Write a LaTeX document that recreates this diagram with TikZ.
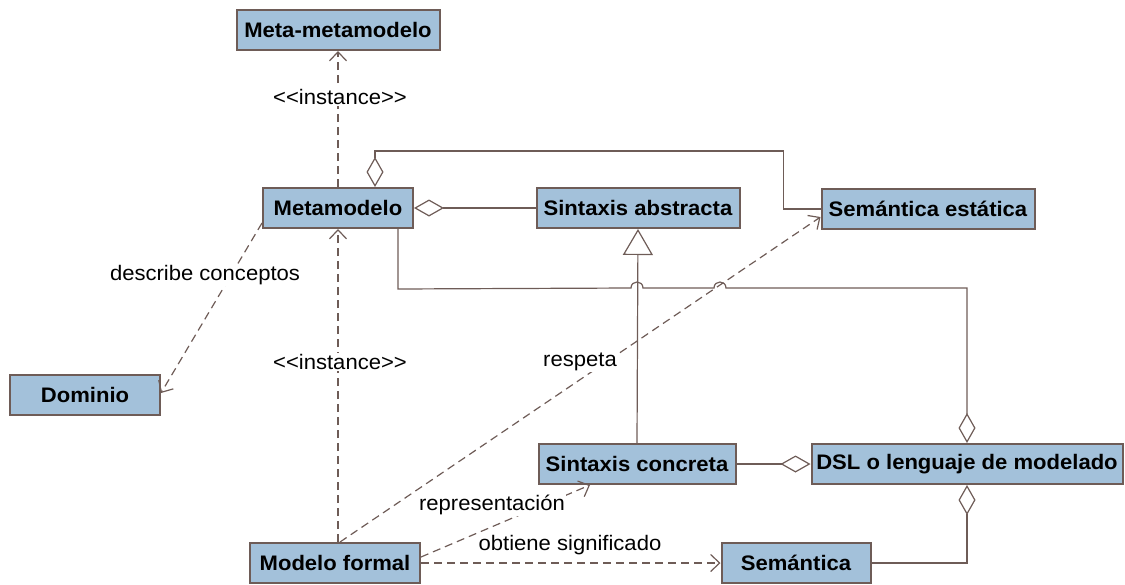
\documentclass[tikz,border=0pt]{standalone}
\usepackage{fontspec}
\setmainfont{Liberation Sans}[FakeStretch=1.05]
\usetikzlibrary{arrows.meta}
\definecolor{boxfill}{HTML}{A3C1DA}
\definecolor{edge}{HTML}{6E5C57}
\begin{document}
\begin{tikzpicture}[x=1pt,y=-1pt,>={Straight Barb[length=9pt,width=17pt]},
cls/.style={draw=edge,line width=2pt,fill=boxfill,minimum height=40pt,inner sep=0pt,font=\fontsize{21}{25}\selectfont\bfseries},
lbl/.style={fill=white,inner sep=1pt,font=\fontsize{21}{25}\selectfont},
dep/.style={->,draw=edge,line width=1.2pt,dash pattern=on 8pt off 5pt},
agg/.style={-{Diamond[open,length=30pt,width=17pt]},draw=edge,line width=1.2pt},
gen/.style={-{Triangle[open,length=26pt,width=30pt]},draw=edge,line width=1.2pt}]
\useasboundingbox (0,0) rectangle (1125,584);

\node[cls,minimum width=203pt](mmm) at (338,30){Meta-metamodelo};
\node[cls,minimum width=150pt](meta) at (338,208){Metamodelo};
\node[cls,minimum width=203pt](sabs) at (638,208){Sintaxis abstracta};
\node[cls,minimum width=213pt](sest) at (928,209){Semántica estática};
\node[cls,minimum width=150pt](dom) at (85,395){Dominio};
\node[cls,minimum width=197pt](scon) at (637,464){Sintaxis concreta};
\node[cls,minimum width=311pt](dsl) at (967,464){DSL o lenguaje de modelado};
\node[cls,minimum width=170pt](mf) at (335,563){Modelo formal};
\node[cls,minimum width=149pt](sem) at (796,563){Semántica};

% aggregations
\draw[agg](sabs.west)--(meta.east);
\draw[agg](sest.west)--++(-37,0)|-([xshift=37pt,yshift=36pt]meta.north)--([xshift=37pt]meta.north);
\draw[agg]([xshift=60pt]meta.south)--++(0,60)--(631,288)
  .. controls (631,280) and (643,280) .. (643,288)--(714,288)
  .. controls (714,280) and (726,280) .. (726,288)-|(dsl.north);
\draw[agg](scon.east)--(dsl.west);
\draw[agg](sem.east)-|(dsl.south);
\draw[gen](scon.north)--(sabs.south);

% dependencies
\draw[dep](meta.north)--(mmm.south);
\draw[dep]([yshift=6pt]meta.south west)--([yshift=2pt]dom.east);
\draw[dep]([xshift=3pt]mf.north)--(meta.south);
\draw[dep]([xshift=5pt]mf.north)--([yshift=-8pt]sest.west);
\draw[dep]([yshift=6pt]mf.east)--([xshift=-47pt]scon.south);
\draw[dep](mf.east)--(sem.west);

\node[lbl] at (340,97){<\kern0pt<instance>\kern0pt>};
\node[lbl] at (205,275){describe conceptos};
\node[lbl] at (340,362){<\kern0pt<instance>\kern0pt>};
\node[lbl] at (580,362){respeta};
\node[lbl] at (492,505){representación};
\node[lbl] at (570,545){obtiene significado};
\end{tikzpicture}
\end{document}
